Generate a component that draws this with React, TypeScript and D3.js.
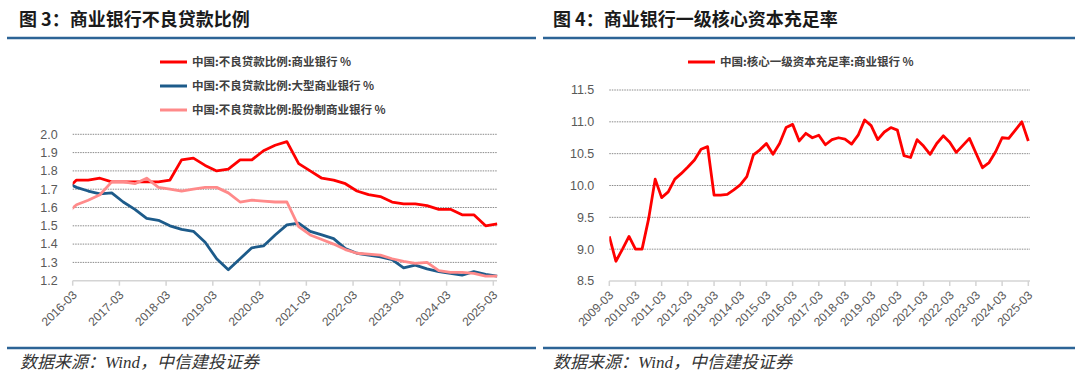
import React, { useEffect } from "react";
import * as d3 from "d3";

// ---------- Figure 3: NPL ratios (quarterly, first entry 2015-12) ----------
const nplStartMonth = "2015-12";
const nplCommercial = [
  1.69,
  1.75, 1.75, 1.76, 1.74,
  1.74, 1.74, 1.74, 1.74,
  1.75, 1.86, 1.87, 1.83,
  1.80, 1.81, 1.86, 1.86,
  1.91, 1.94, 1.96, 1.84,
  1.80, 1.76, 1.75, 1.73,
  1.69, 1.67, 1.66, 1.63,
  1.62, 1.62, 1.61, 1.59,
  1.59, 1.56, 1.56, 1.50,
  1.51,
];
const nplLarge = [
  1.74,
  1.71, 1.69, 1.675, 1.68,
  1.63, 1.59, 1.54, 1.53,
  1.50, 1.48, 1.47, 1.41,
  1.32, 1.26, 1.32, 1.38,
  1.39, 1.45, 1.505, 1.515,
  1.47, 1.45, 1.43, 1.375,
  1.35, 1.34, 1.33, 1.315,
  1.27, 1.285, 1.265, 1.25,
  1.24, 1.23, 1.25, 1.235,
  1.225,
];
const nplJointStock = [
  1.56,
  1.615, 1.64, 1.67, 1.74,
  1.74, 1.73, 1.76, 1.71,
  1.70, 1.69, 1.70, 1.71,
  1.71, 1.68, 1.63, 1.64,
  1.635, 1.63, 1.63, 1.495,
  1.45, 1.425, 1.40, 1.37,
  1.35, 1.345, 1.34, 1.32,
  1.305, 1.295, 1.30, 1.255,
  1.245, 1.245, 1.24, 1.225,
  1.225,
];
const nplSeriesNames = [
  "中国:不良贷款比例:商业银行 %",
  "中国:不良贷款比例:大型商业银行 %",
  "中国:不良贷款比例:股份制商业银行 %",
];
const nplYTicks = [1.2, 1.3, 1.4, 1.5, 1.6, 1.7, 1.8, 1.9, 2.0];
const nplXTicks = [
  "2016-03", "2017-03", "2018-03", "2019-03", "2020-03",
  "2021-03", "2022-03", "2023-03", "2024-03", "2025-03",
];

// ---------- Figure 4: core tier-1 CAR (quarterly, first entry 2009-03) ----------
const ct1StartMonth = "2009-03";
const ct1Values = [
  9.20, 8.81, 9.00, 9.20,
  9.00, 9.00, 9.48, 10.10,
  9.81, 9.90, 10.10, 10.19,
  10.29, 10.40, 10.57, 10.61,
  9.85, 9.85, 9.86, 9.93,
  10.01, 10.14, 10.48, 10.56,
  10.66, 10.49, 10.66, 10.91,
  10.96, 10.70, 10.82, 10.75,
  10.79, 10.64, 10.72, 10.75,
  10.73, 10.65, 10.79, 11.03,
  10.94, 10.72, 10.84, 10.91,
  10.87, 10.47, 10.44, 10.72,
  10.62, 10.49, 10.66, 10.78,
  10.68, 10.52, 10.63, 10.74,
  10.51, 10.28, 10.36, 10.53,
  10.75, 10.74, 10.87, 11.00,
  10.70,
];
const ct1SeriesName = "中国:核心一级资本充足率:商业银行 %";
const ct1YTicks = [8.5, 9.0, 9.5, 10.0, 10.5, 11.0, 11.5];
const ct1XTicks = [
  "2009-03", "2010-03", "2011-03", "2012-03", "2013-03", "2014-03",
  "2015-03", "2016-03", "2017-03", "2018-03", "2019-03", "2020-03",
  "2021-03", "2022-03", "2023-03", "2024-03", "2025-03",
];

const titles = ["图 3：商业银行不良贷款比例", "图 4：商业银行一级核心资本充足率"];
const sourceText = "数据来源：Wind，中信建投证券";

const parseMonth = d3.timeParse("%Y-%m")!;
const quarterEnd = (start: Date, i: number) =>
  d3.timeDay.offset(d3.timeMonth.offset(start, 3 * i + 1), -1);

const RULE = "#2c6496";
const GRID = "#8a8a8a";
const AXIS = "#d4d4d4";
const LABEL = "#595959";
const CJK = "'Noto Sans CJK SC', 'Noto Sans', sans-serif";
const LATIN = "'Liberation Sans', Arial, sans-serif";

type Series = { name: string; values: number[]; color: string };

function Panel(props: {
  x0: number; x1: number; gridEnd: number; yTop: number; yBot: number;
  yDomain: [number, number]; yTicks: number[]; xTicks: string[];
  dates: Date[]; series: Series[]; legendX: number; legendY: number; clipId: string;
}) {
  const { x0, x1, gridEnd, yTop, yBot, yDomain, yTicks, xTicks, dates, series, legendX, legendY, clipId } = props;
  const x = d3.scaleTime().domain([parseMonth(xTicks[0])!, parseMonth(xTicks[xTicks.length - 1])!]).range([x0, x1]);
  const y = d3.scaleLinear().domain(yDomain).range([yBot, yTop]);
  const fmt = d3.format(".1f");
  const line = d3.line<number>().x((_, i) => x(dates[i])).y((d) => y(d));
  return (
    <g>
      <defs>
        <clipPath id={clipId}>
          <rect x={x0} y={0} width={gridEnd - x0 + 10} height={400} />
        </clipPath>
      </defs>
      {yTicks.map((t, i) => (
        <g key={"y" + i}>
          {i > 0 && (
            <line x1={x0} x2={gridEnd} y1={y(t)} y2={y(t)} stroke={GRID} strokeWidth={1} strokeDasharray="1.5 1" />
          )}
          <text x={x0 - 15} y={y(t)} dy="0.35em" textAnchor="end" fontFamily={LATIN} fontSize={12.5} fill={LABEL}>
            {fmt(t)}
          </text>
        </g>
      ))}
      <line x1={x0} x2={gridEnd} y1={yBot} y2={yBot} stroke={AXIS} strokeWidth={1.5} />
      {xTicks.map((t) => {
        const tx = x(parseMonth(t)!);
        return (
          <g key={t}>
            <line x1={tx} x2={tx} y1={yBot} y2={yBot + 5} stroke={AXIS} strokeWidth={1.5} />
            <text
              transform={`translate(${tx + 2},${yBot + 12}) rotate(-45)`}
              textAnchor="end"
              dy="0.35em"
              fontFamily={LATIN}
              fontSize={12}
              fill={LABEL}
            >
              {t}
            </text>
          </g>
        );
      })}
      <g clipPath={`url(#${clipId})`}>
        {series.map((s) => (
          <path key={s.name} d={line(s.values)!} fill="none" stroke={s.color} strokeWidth={2.8} strokeLinejoin="round" />
        ))}
      </g>
      {series.map((s, i) => (
        <g key={"lg" + i} transform={`translate(${legendX},${legendY + i * 24})`}>
          <line x1={0} x2={27} y1={0} y2={0} stroke={s.color} strokeWidth={3} />
          <text x={32} y={0} dy="0.36em" fontFamily={CJK} fontSize={11.5} fontWeight={700} fill="#404040">
            {s.name}
          </text>
        </g>
      ))}
    </g>
  );
}

export default function App() {
  useEffect(() => {
    document.body.style.margin = "0";
  }, []);
  const nplStart = parseMonth(nplStartMonth)!;
  const nplDates = nplCommercial.map((_, i) => quarterEnd(nplStart, i));
  const ct1Start = parseMonth(ct1StartMonth)!;
  const ct1Dates = ct1Values.map((_, i) => d3.timeMonth.offset(ct1Start, 3 * i));

  return (
    <svg width={1080} height={380} style={{ display: "block", background: "#fff" }}>
      <rect width={1080} height={380} fill="#fff" />
      <text x={19} y={26} fontFamily={CJK} fontSize={18} fontWeight={700} fill="#1a1a1a">{titles[0]}</text>
      <text x={553} y={26} fontFamily={CJK} fontSize={18} fontWeight={700} fill="#1a1a1a">{titles[1]}</text>
      <line x1={7} x2={536} y1={38} y2={38} stroke={RULE} strokeWidth={2.5} />
      <line x1={543} x2={1075} y1={38} y2={38} stroke={RULE} strokeWidth={2.5} />
      <line x1={7} x2={536} y1={348} y2={348} stroke={RULE} strokeWidth={2.5} />
      <line x1={543} x2={1075} y1={348} y2={348} stroke={RULE} strokeWidth={2.5} />
      <text x={20} y={368} fontFamily={`'Liberation Serif', ${CJK}`} fontStyle="italic" fontSize={17} fill="#333">{sourceText}</text>
      <text x={553} y={368} fontFamily={`'Liberation Serif', ${CJK}`} fontStyle="italic" fontSize={17} fill="#333">{sourceText}</text>

      <Panel
        x0={72.7} x1={493.3} gridEnd={497} yTop={134.3} yBot={280.7}
        yDomain={[1.2, 2.0]} yTicks={nplYTicks} xTicks={nplXTicks}
        dates={nplDates}
        series={[
          { name: nplSeriesNames[0], values: nplCommercial, color: "#ff0000" },
          { name: nplSeriesNames[1], values: nplLarge, color: "#1d5b8a" },
          { name: nplSeriesNames[2], values: nplJointStock, color: "#ff8a8a" },
        ]}
        legendX={160} legendY={62} clipId="clipL"
      />
      <Panel
        x0={609.3} x1={1028.3} gridEnd={1030} yTop={90} yBot={281}
        yDomain={[8.5, 11.5]} yTicks={ct1YTicks} xTicks={ct1XTicks}
        dates={ct1Dates}
        series={[{ name: ct1SeriesName, values: ct1Values, color: "#ff0000" }]}
        legendX={688} legendY={62} clipId="clipR"
      />
    </svg>
  );
}
